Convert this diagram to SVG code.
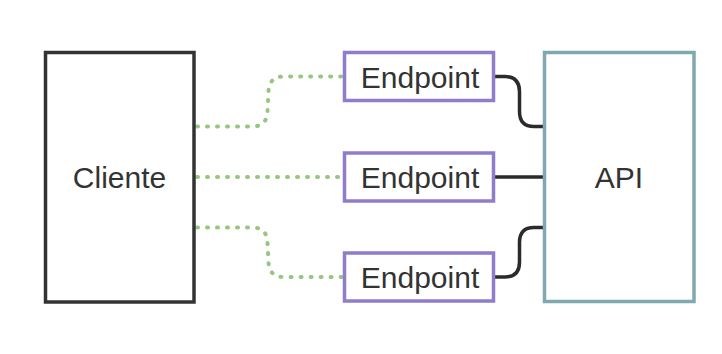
<svg xmlns="http://www.w3.org/2000/svg" width="722" height="354" viewBox="0 0 722 354">
<style>
.lbl{font-family:"Liberation Sans",Arial,sans-serif;font-size:30px;fill:#333;text-anchor:middle}
.ep{fill:#fff;stroke:#8f7ccb;stroke-width:3.5}
.dot{fill:none;stroke:#97c67e;stroke-width:4;stroke-linecap:round;stroke-dasharray:1 9}
.wire{fill:none;stroke:#2b2b2b;stroke-width:3.5}
</style>
<rect width="722" height="354" fill="#fff"/>
<g id="connectors">
<path class="dot" d="M197,126.5 H252 Q267,126.5 267.5,111.5 L268.5,91.5 Q269,76.5 284,76.5 H342"/>
<path class="dot" d="M197,177 H342"/>
<path class="dot" d="M197,227.5 H252 Q267,227.5 267.5,242.5 L268.5,262 Q269,277 284,277 H342"/>
<path class="wire" d="M495,76.5 H505 Q519.5,76.5 519.5,91.5 V111.5 Q519.5,126.5 534,126.5 H543"/>
<path class="wire" d="M495,177 H543"/>
<path class="wire" d="M495,277 H505 Q519.5,277 519.5,262 V242.5 Q519.5,227.5 534,227.5 H543"/>
</g>
<g id="cliente">
<rect x="45.5" y="52.5" width="148.5" height="249.5" fill="#fff" stroke="#333" stroke-width="3.5"/>
<text class="lbl" x="119.5" y="188">Cliente</text>
</g>
<g id="api">
<rect x="544.5" y="52.5" width="149.5" height="249" fill="#fff" stroke="#80a8b0" stroke-width="3.5"/>
<text class="lbl" x="619" y="188">API</text>
</g>
<g id="endpoint1">
<rect class="ep" x="344.5" y="52.5" width="149" height="48"/>
<text class="lbl" x="420" y="87.5">Endpoint</text>
</g>
<g id="endpoint2">
<rect class="ep" x="344.5" y="153" width="149" height="48"/>
<text class="lbl" x="420" y="188">Endpoint</text>
</g>
<g id="endpoint3">
<rect class="ep" x="344.5" y="253" width="149" height="48"/>
<text class="lbl" x="420" y="288">Endpoint</text>
</g>
</svg>
